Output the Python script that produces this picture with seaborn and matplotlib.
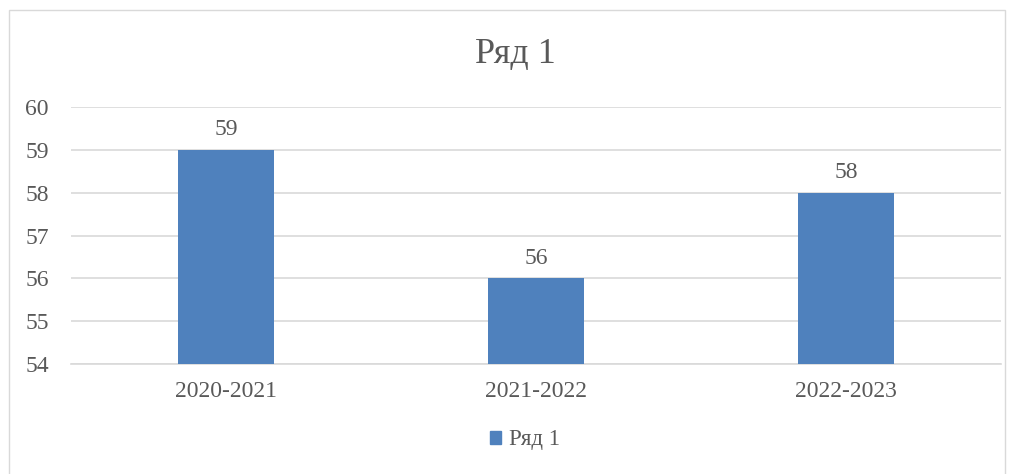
import pandas as pd
import seaborn as sns
import matplotlib.pyplot as plt
from matplotlib.patches import Rectangle

years = ['2020-2021', '2021-2022', '2022-2023']
values = [59, 56, 58]
series = 'Ряд 1'

data = pd.DataFrame({'year': years, 'value': values, 'series': series})

sns.set_style('white')
plt.rcParams['font.family'] = ['Liberation Serif', 'DejaVu Serif']
grey = '#595959'
blue = '#4F81BD'

fig = plt.figure(figsize=(10.17, 4.74), dpi=100)
ax = fig.add_axes([0.0698, 0.232, 0.9145, 0.542])
sns.barplot(data=data, x='year', y='value', hue='series', palette=[blue],
            width=0.31, saturation=1, linewidth=0, ax=ax, legend=False, zorder=3)
ax.set_ylim(54, 60)
ax.set_yticks(range(54, 61))
ax.set_xlim(-0.5, 2.5)
ax.yaxis.grid(True, color='#D9D9D9', linewidth=1.2, zorder=0)
ax.set_axisbelow(True)
for s in ['top', 'right', 'left']:
    ax.spines[s].set_visible(False)
ax.spines['bottom'].set_color('#D9D9D9')
ax.spines['bottom'].set_linewidth(1.2)
ax.tick_params(axis='both', length=0, labelsize=17, labelcolor=grey)
ax.tick_params(axis='x', pad=12)
ax.tick_params(axis='y', pad=16)
ax.set(xlabel='', ylabel='')
for c in ax.containers:
    ax.bar_label(c, fmt='%d', padding=7, fontsize=17, color=grey)

fig.text(0.507, 0.886, series, ha='center', va='center', fontsize=26, color=grey)

h = plt.Rectangle((0, 0), 1, 1, color=blue)
fig.legend([h], [series], loc='center', bbox_to_anchor=(0.516, 0.072), frameon=False,
           fontsize=16.5, labelcolor=grey, handlelength=0.5, handleheight=0.5, handletextpad=0.35)

fig.patches.append(Rectangle((9 / 1017, -0.05), 996 / 1017, 1 - 10 / 474 + 0.05,
                             transform=fig.transFigure, fill=False, edgecolor='#D9D9D9', linewidth=1))

fig.savefig('out.png', dpi=100)
